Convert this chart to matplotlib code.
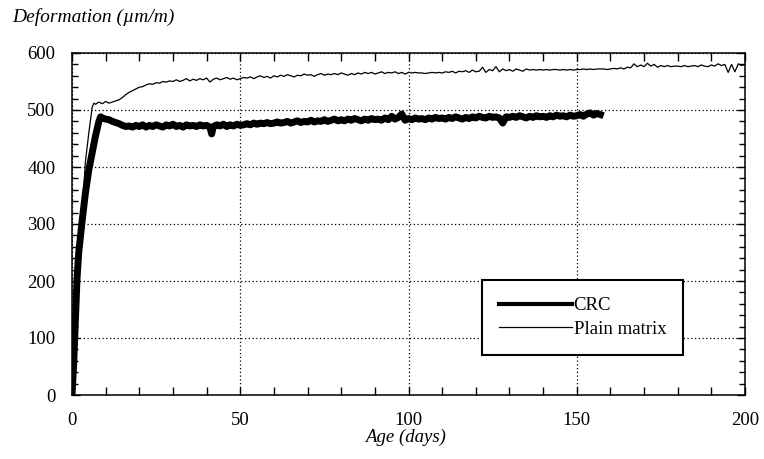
import matplotlib
matplotlib.use("Agg")
import matplotlib.pyplot as plt
from matplotlib.ticker import MultipleLocator
import numpy as np

plt.rcParams['font.family'] = ['Liberation Serif', 'DejaVu Serif']

# ---- data ----
plain_days = [0, 0.5, 1, 1.5, 2, 3, 4, 5, 6, 6.5, 7, 8, 9, 10, 11, 12, 13, 14, 15, 16, 17, 18, 19,
              20, 21, 22, 23, 24, 25, 26, 27, 28, 29, 30, 31, 32, 33, 34, 35, 36, 37, 38, 39,
              40, 41, 42, 43, 44, 45, 46, 47, 48, 49, 50, 51, 52, 53, 54, 55, 56, 57, 58, 59,
              60, 61, 62, 63, 64, 65, 66, 67, 68, 69, 70, 71, 72, 73, 74, 75, 76, 77, 78, 79,
              80, 81, 82, 83, 84, 85, 86, 87, 88, 89, 90, 91, 92, 93, 94, 95, 96, 97, 98, 99,
              100, 101, 102, 103, 104, 105, 106, 107, 108, 109, 110, 111, 112, 113, 114, 115, 116, 117, 118, 119,
              120, 121, 122, 123, 124, 125, 126, 127, 128, 129, 130, 131, 132, 133, 134, 135, 136, 137, 138, 139,
              140, 141, 142, 143, 144, 145, 146, 147, 148, 149, 150, 151, 152, 153, 154, 155, 156, 157, 158, 159,
              160, 161, 162, 163, 164, 165, 166, 167, 168, 169, 170, 171, 172, 173, 174, 175, 176, 177, 178, 179,
              180, 181, 182, 183, 184, 185, 186, 187, 188, 189, 190, 191, 192, 193, 194, 195, 196, 197, 198, 199, 200]
plain_vals = [0, 60, 120, 195, 250, 320, 410, 460, 505, 512, 510, 514, 511, 515, 512, 514, 516, 518, 522, 527, 531, 534, 537,
              540, 541, 544, 546, 545, 548, 547, 550, 549, 551, 550, 553, 550, 552, 555, 551, 554, 552, 555, 553,
              556, 549, 554, 556, 553, 555, 557, 554, 556, 553, 555, 557, 556, 558, 555, 558, 560, 557, 559, 556,
              560, 558, 561, 559, 562, 560, 558, 561, 560, 563, 561, 562, 559, 562, 564, 561, 563, 562, 564, 562,
              565, 563, 561, 564, 562, 565, 563, 566, 564, 566, 563, 565, 567, 564, 566, 565, 567, 564, 566, 563,
              566, 565, 566, 565, 565, 564, 565, 566, 565, 566, 565, 567, 566, 568, 565, 568, 567, 569, 566, 570,
              567, 568, 575, 566, 571, 569, 576, 567, 572, 569, 571, 568, 572, 570, 568, 572, 570, 571, 570, 571,
              570, 571, 570, 571, 571, 570, 571, 570, 571, 570, 571, 571, 572, 571, 572, 571, 572, 572, 572, 571,
              572, 573, 572, 574, 572, 575, 574, 581, 576, 579, 576, 582, 577, 580, 575, 578, 576, 578, 576, 577,
              577, 576, 578, 576, 577, 578, 576, 579, 577, 576, 579, 577, 581, 578, 580, 566, 580, 567, 581, 578, 580]

crc_days = [0, 0.5, 1, 1.5, 2, 3, 4, 5, 6, 7, 8, 8.5, 9, 10, 11, 12, 13, 14, 15, 16, 17, 18, 19,
            20, 21, 22, 23, 24, 25, 26, 27, 28, 29, 30, 31, 32, 33, 34, 35, 36, 37, 38, 39,
            40, 41, 41.5, 42, 43, 44, 45, 46, 47, 48, 49, 50, 51, 52, 53, 54, 55, 56, 57, 58, 59,
            60, 61, 62, 63, 64, 65, 66, 67, 68, 69, 70, 71, 72, 73, 74, 75, 76, 77, 78, 79,
            80, 81, 82, 83, 84, 85, 86, 87, 88, 89, 90, 91, 92, 93, 94, 95, 96, 97, 98, 99,
            100, 101, 102, 103, 104, 105, 106, 107, 108, 109, 110, 111, 112, 113, 114, 115, 116, 117, 118, 119,
            120, 121, 122, 123, 124, 125, 126, 127, 128, 129, 130, 131, 132, 133, 134, 135, 136, 137, 138, 139,
            140, 141, 142, 143, 144, 145, 146, 147, 148, 149, 150, 151, 152, 153, 154, 155, 156, 157]
crc_vals = [0, 55, 130, 205, 250, 305, 355, 395, 425, 455, 480, 488, 486, 484, 483, 480, 478, 476, 473, 471, 472, 470, 473,
            471, 474, 470, 473, 471, 474, 472, 470, 474, 472, 475, 471, 473, 470, 474, 472, 473, 471, 474, 472,
            473, 470, 458, 471, 474, 472, 475, 471, 474, 472, 475, 473, 474, 476, 474, 477, 475, 477, 476, 478, 476,
            477, 479, 477, 478, 480, 477, 479, 481, 478, 480, 479, 482, 479, 481, 480, 483, 480, 482, 484, 481,
            483, 481, 484, 482, 485, 483, 481, 484, 482, 485, 483, 484, 482, 486, 483, 489, 484, 487, 493, 482,
            485, 483, 486, 484, 485, 483, 486, 484, 487, 485, 486, 484, 487, 485, 488, 486, 484, 487, 485, 488,
            486, 489, 487, 486, 489, 487, 488, 486, 477, 488, 487, 489, 487, 490, 488, 486, 489, 487, 490, 488,
            489, 487, 490, 488, 491, 489, 490, 488, 491, 489, 490, 492, 489, 493, 495, 491, 494, 492]

x_major = [0, 50, 100, 150, 200]
y_major = [0, 100, 200, 300, 400, 500, 600]

fig = plt.figure(figsize=(7.64, 4.59), dpi=100)
ax = fig.add_axes([72/764, 1-395/459, 673/764, 342/459])

ax.plot(crc_days, crc_vals, color='black', lw=5.0, label='CRC')
ax.plot(plain_days, plain_vals, color='black', lw=0.9, label='Plain matrix')

ax.set_xlim(0, 200)
ax.set_ylim(0, 600)
ax.set_xticks(x_major)
ax.set_yticks(y_major)
ax.xaxis.set_minor_locator(MultipleLocator(10))
ax.yaxis.set_minor_locator(MultipleLocator(20))
ax.tick_params(axis='both', which='both', direction='in', top=True, right=True, width=1)
ax.tick_params(axis='x', which='major', length=6, pad=12, labelsize=13.5)
ax.tick_params(axis='x', which='minor', length=6)
ax.tick_params(axis='y', which='major', length=6, pad=12, labelsize=13.5)
ax.tick_params(axis='y', which='minor', length=4.5)
for s in ax.spines.values():
    s.set_linewidth(1.1)

ax.grid(True, which='major', color='black', linestyle=(0, (1, 2)), linewidth=0.9)

leg = ax.legend(loc='upper left', bbox_to_anchor=(0.609, 0.336), fontsize=13.5,
                frameon=True, fancybox=False, edgecolor='black', framealpha=1,
                handlelength=3.9, handletextpad=0.1, borderpad=0.9, labelspacing=0.35,
                borderaxespad=0)
leg.get_frame().set_linewidth(1.5)
leg.get_lines()[0].set_linewidth(3.0)

fig.text(12/764, 1-17/459, 'Deformation (\u00b5m/m)', fontsize=14, style='italic',
         ha='left', va='center')
fig.text(405/764, 1-437/459, 'Age (days)', fontsize=13.5, style='italic',
         ha='center', va='center')

fig.savefig('out.png', dpi=100)
